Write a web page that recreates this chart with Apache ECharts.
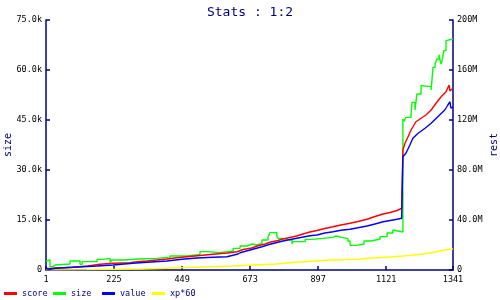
<!DOCTYPE html>
<html>
<head>
<meta charset="utf-8">
<script src="https://cdn.jsdelivr.net/npm/echarts@6/dist/echarts.min.js"></script>
<style>html,body{margin:0;padding:0;background:#fff}#c{width:500px;height:300px}</style>
</head>
<body>
<div id="c"></div>
<script>
// x ticks
const xTicks = [1, 225, 449, 673, 897, 1121, 1341];
// size (left axis, raw units)
const sizeX = [1,4,14,24,31,80,113,120,169,189,212,218,254,310,366,399,409,465,508,531,574,617,640,663,679,696,712,732,738,761,765,781,811,814,854,877,946,956,975,995,1002,1025,1048,1071,1101,1124,1143,1147,1176,1180,1186,1203,1206,1216,1222,1236,1242,1269,1275,1282,1288,1295,1298,1302,1305,1311,1318,1324,1341];
const sizeY = [2700,3000,1000,1500,1800,2700,1700,2500,3200,3500,2300,3000,3300,3500,3800,3300,4200,4700,5500,5200,5700,6500,7200,7800,7500,8000,9000,10000,11200,10200,9500,8900,7800,8500,9200,9800,10200,9800,9400,8700,7400,7800,8700,9300,10000,11100,12000,11400,45300,44600,45800,46500,50300,48000,52800,55300,55000,54000,60800,61800,63300,64600,63000,61800,62800,65800,68800,69300,69300];
// score (right axis, millions)
const scoreX = [1,24,90,139,179,222,278,301,334,366,399,432,465,508,551,597,630,650,679,696,722,738,765,781,804,827,847,870,893,919,946,972,1002,1028,1058,1084,1111,1134,1157,1172,1176,1183,1193,1203,1219,1236,1252,1269,1285,1302,1318,1328,1331,1338,1341];
const scoreY = [1.0,1.4,2.2,3.2,4.6,5.4,5.8,6.6,7.2,8.0,8.8,9.8,10.6,11.6,12.6,13.6,14.6,16.4,17.6,19.2,20.8,22.2,23.6,24.8,26.0,27.2,28.8,30.4,31.6,33.2,34.6,36.0,37.4,38.8,40.6,42.8,44.8,46.0,47.6,49.4,96.0,101.4,106.6,112.0,118.6,121.4,124.0,128.0,133.4,138.6,142.6,148.0,143.2,144.8,144.8];
// value (right axis, millions)
const valueX = [1,14,31,90,169,222,287,334,399,449,498,551,597,633,640,673,712,738,781,827,870,893,919,946,972,1002,1028,1058,1084,1111,1134,1157,1172,1176,1186,1199,1209,1226,1249,1269,1291,1314,1324,1331,1334,1338,1341];
const valueY = [1.4,0.6,1.4,2.2,3.2,4.0,5.4,6.2,7.2,8.6,9.6,10.2,10.6,12.8,13.8,16.0,18.6,20.6,23.2,25.4,27.4,28.0,29.6,30.6,31.8,32.6,33.8,35.2,36.8,38.6,39.6,40.6,41.4,90.6,93.4,100.0,105.4,109.4,113.4,117.4,122.6,128.0,132.0,134.6,129.4,130.6,130.6];
// xp*60 (right axis, millions)
const xpX = [1,47,136,320,442,518,617,689,761,811,860,926,1025,1074,1134,1186,1242,1282,1308,1331,1341];
const xpY = [0.1,0.3,0.8,1.8,2.4,3.2,4.0,4.8,6.0,6.8,7.8,8.6,9.6,10.4,11.4,12.8,14.4,15.8,16.6,16.8,16.8];

const names = ['score', 'size', 'value', 'xp*60'];
const colors = ['#ff0000', '#00ff00', '#0000ff', '#ffff00'];

const zip = (xs, ys) => xs.map((x, i) => [x, ys[i]]);
const NAVY = '#000080';
const FONT = 'DejaVu Sans Mono';
const legendLeft = [4, 53, 102, 152];

const chart = echarts.init(document.getElementById('c'), null, {renderer: 'canvas'});
const mkSeries = (name, data, axis, color, z, step) => ({
  name, type: 'line', step, data, yAxisIndex: axis, showSymbol: false, symbol: 'none',
  lineStyle: {color, width: 1.4}, itemStyle: {color}, animation: false, z
});
chart.setOption({
  animation: false,
  title: {text: 'Stats : 1:2', left: 'center', top: 1,
    textStyle: {fontFamily: FONT, fontSize: 13, fontWeight: 'normal', color: NAVY}},
  grid: {left: 46, right: 47, top: 20, bottom: 30, containLabel: false, outerBoundsMode: 'none'},
  legend: names.map((n, i) => ({
    left: legendLeft[i], top: 289, padding: 0, itemWidth: 13, itemHeight: 3, icon: 'rect',
    selectedMode: false, data: [n],
    textStyle: {fontFamily: FONT, fontSize: 8.5, color: NAVY}
  })),
  xAxis: {
    type: 'value', min: xTicks[0], max: xTicks[xTicks.length - 1], interval: 224,
    axisLine: {lineStyle: {color: NAVY, width: 1.5}},
    axisTick: {inside: true, length: 4, lineStyle: {color: NAVY, width: 1.5}},
    axisLabel: {fontFamily: FONT, fontSize: 8.5, color: '#000', margin: 5, showMaxLabel: true, showMinLabel: true,
      formatter: v => String(v)},
    splitLine: {show: false}
  },
  yAxis: [
    {
      type: 'value', min: 0, max: 75000, interval: 15000, position: 'left',
      name: 'size', nameLocation: 'middle', nameRotate: 90, nameGap: 33, nameMoveOverlap: false,
      nameTextStyle: {fontFamily: FONT, fontSize: 10, color: NAVY},
      axisLine: {show: true, lineStyle: {color: NAVY, width: 1.5}},
      axisTick: {show: true, inside: true, length: 4, lineStyle: {color: NAVY, width: 1.5}},
      axisLabel: {fontFamily: FONT, fontSize: 8.5, color: '#000', margin: 4,
        formatter: v => v === 0 ? '0' : (v / 1000).toFixed(1) + 'k'},
      splitLine: {show: false}
    },
    {
      type: 'value', min: 0, max: 200, interval: 40, position: 'right',
      name: 'rest', nameLocation: 'middle', nameRotate: 90, nameGap: 36, nameMoveOverlap: false,
      nameTextStyle: {fontFamily: FONT, fontSize: 10, color: NAVY},
      axisLine: {show: true, lineStyle: {color: NAVY, width: 1.5}},
      axisTick: {show: true, inside: true, length: 4, lineStyle: {color: NAVY, width: 1.5}},
      axisLabel: {fontFamily: FONT, fontSize: 8.5, color: '#000', margin: 4,
        formatter: v => v === 0 ? '0' : (v >= 100 ? v.toFixed(0) : v.toFixed(1)) + 'M'},
      splitLine: {show: false}
    }
  ],
  series: [
    mkSeries('xp*60', zip(xpX, xpY), 1, colors[3], 1, 'end'),
    mkSeries('size', zip(sizeX, sizeY), 0, colors[1], 2, 'end'),
    mkSeries('score', zip(scoreX, scoreY), 1, colors[0], 3, false),
    mkSeries('value', zip(valueX, valueY), 1, colors[2], 4, false)
  ]
});
</script>
</body>
</html>
